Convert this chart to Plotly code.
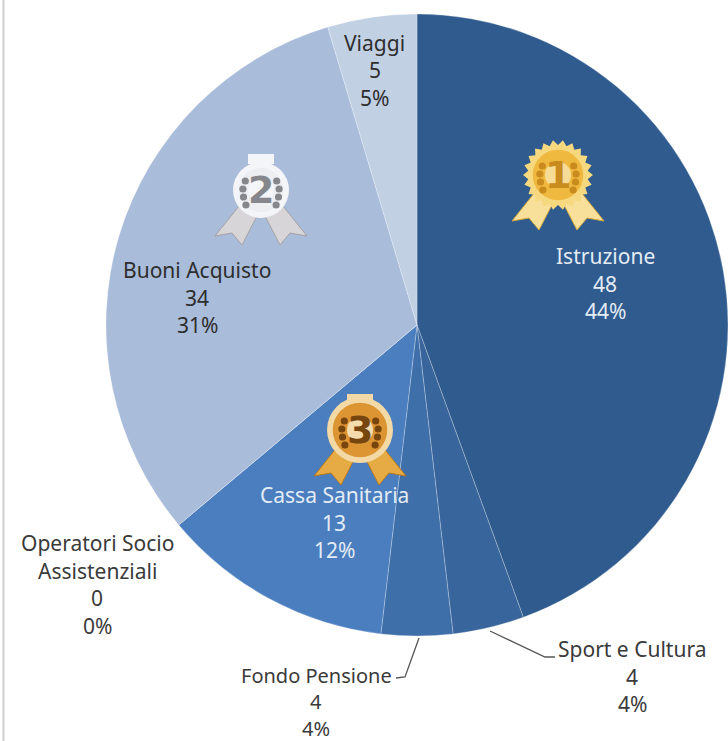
import math
import plotly.graph_objects as go

W, H = 728, 741
categories = ["Istruzione", "Sport e Cultura", "Fondo Pensione", "Cassa Sanitaria",
              "Operatori Socio<br>Assistenziali", "Buoni Acquisto", "Viaggi"]
values = [48, 4, 4, 13, 0, 34, 5]
percents = ["44%", "4%", "4%", "12%", "0%", "31%", "5%"]
colors = ["#2f5b8e", "#38659b", "#3f6fa9", "#4a7ebf", "#4a7ebf", "#a9bcd9", "#c2d0e4"]
label_colors = ["#e4ecf5", "#3a3a3a", "#3a3a3a", "#e4ecf5", "#3a3a3a", "#2e2e2e", "#2e2e2e"]
# x centre, y of first line centre, line step, font size (pixels)
label_px = [(605, 256, 27.5, 21), (632, 649, 27.5, 21), (316, 675, 26.5, 20), (334, 495, 27.5, 21),
            (97, 543, 27.5, 21), (197, 270, 27.5, 21), (375, 43, 27.5, 21)]


def px(x):
    return x / W


def py(y):
    return 1 - y / H


fig = go.Figure(go.Pie(
    labels=categories, values=values, sort=False, direction="clockwise", rotation=0,
    marker=dict(colors=colors, line=dict(color="rgba(255,255,255,0.25)", width=1)),
    textinfo="none", hoverinfo="label+value+percent", showlegend=False,
    domain=dict(x=[px(106), 1], y=[py(637), py(13)]),
))

shapes = []
annotations = []


def pshape(path, **kw):
    shapes.append(dict(type="path", xref="paper", yref="paper", path=path, layer="above", **kw))


def poly(points):
    return "M" + " L".join(f"{px(x):.5f},{py(y):.5f}" for x, y in points) + " Z"


def circle(cx, cy, r, fill, line=None, lw=0):
    shapes.append(dict(type="circle", xref="paper", yref="paper", layer="above",
                       x0=px(cx - r), x1=px(cx + r), y0=py(cy + r), y1=py(cy - r),
                       fillcolor=fill, line=dict(color=line or fill, width=lw)))


def medal(cx, cy, number, ribbon, ribbon2, edge, face, ink, halo, toothed=True, r=28):
    # ribbons
    pshape(poly([(cx - 22, cy + 16), (cx - 46, cy + 46), (cx - 29, cy + 43), (cx - 19, cy + 55), (cx - 4, cy + 26)]),
           fillcolor=ribbon, line=dict(color=ribbon2, width=1))
    pshape(poly([(cx + 22, cy + 16), (cx + 46, cy + 46), (cx + 29, cy + 43), (cx + 19, cy + 55), (cx + 4, cy + 26)]),
           fillcolor=ribbon, line=dict(color=ribbon2, width=1))
    if toothed:
        pts = []
        for i in range(44):
            a = i * math.pi / 22
            rr = r + 7 if i % 2 == 0 else r + 2
            pts.append((cx + rr * math.cos(a), cy + rr * math.sin(a)))
        pshape(poly(pts), fillcolor=edge, line=dict(color=edge, width=0))
    else:
        circle(cx, cy, r + 3, edge)
        shapes.append(dict(type="rect", xref="paper", yref="paper", layer="above",
                           x0=px(cx - 13), x1=px(cx + 13), y0=py(cy - 26), y1=py(cy - 36),
                           fillcolor=edge, line=dict(width=0)))
    circle(cx, cy, r - 2, face, edge, 1.5)
    circle(cx, cy, 13, halo)
    # laurel sprigs
    for side in (-1, 1):
        for dy in (-9, -1, 7, 15):
            off = 19 - abs(dy - 2) * 0.3
            circle(cx + side * off, cy + dy, 3.6, ink)
    annotations.append(dict(xref="paper", yref="paper", x=px(cx), y=py(cy), text=f"<b>{number}</b>",
                            showarrow=False, xanchor="center", yanchor="middle",
                            font=dict(family="DejaVu Sans", size=38, color=ink)))


medal(558, 175, 1, "#f8e09a", "#d9a93d", "#f6d97f", "#efb83f", "#c98a1e", "#f6dc96")
medal(261, 190, 2, "#d8d5d8", "#a5a1a5", "#f4f5f8", "#eceef2", "#85878c", "#f4f5f8", toothed=False, r=25)
medal(360, 430, 3, "#e6ab45", "#b9791f", "#f3d9a6", "#dd9433", "#77460f", "#f5dcae", toothed=False, r=30)

for name, val, pct, col, (x, y0, step, size) in zip(categories, values, percents, label_colors, label_px):
    lines = name.split("<br>") + [str(val), pct]
    for i, line in enumerate(lines):
        annotations.append(dict(xref="paper", yref="paper", x=px(x), y=py(y0 + i * step),
                                text=line, showarrow=False, borderpad=0,
                                xanchor="center", yanchor="middle", align="center",
                                font=dict(family="Noto Sans", size=size, color=col)))

# leader lines
leader_sport = [(490, 631), (545, 657), (555, 657)]
leader_fondo = [(419, 638), (405, 677), (396, 678)]
for line in (leader_sport, leader_fondo):
    shapes.append(dict(type="path", xref="paper", yref="paper", layer="above",
                       path="M" + " L".join(f"{px(x):.5f},{py(y):.5f}" for x, y in line),
                       line=dict(color="#555555", width=1.3)))
# frame remnant at the left edge
shapes.append(dict(type="line", xref="paper", yref="paper", x0=px(3.5), x1=px(3.5), y0=0, y1=1,
                   line=dict(color="#cfcfcf", width=2)))

fig.update_layout(width=W, height=H, margin=dict(l=0, r=0, t=0, b=0),
                  paper_bgcolor="white", shapes=shapes, annotations=annotations)
fig.write_html("out.html", config=dict(displayModeBar=False),
               post_script="document.body.style.margin='0';document.body.style.overflow='hidden';")
